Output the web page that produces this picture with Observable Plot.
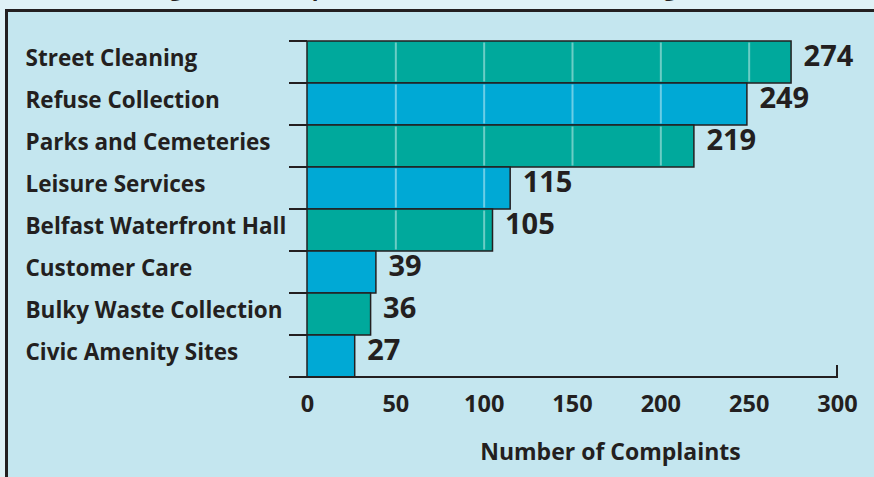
<!DOCTYPE html>
<html><head><meta charset="utf-8">
<script src="https://cdn.jsdelivr.net/npm/d3@7"></script>
<script src="https://cdn.jsdelivr.net/npm/@observablehq/plot@0.6"></script>
<style>
html,body{margin:0;padding:0;width:874px;height:477px;overflow:hidden;background:#dff1f6;font-family:"Open Sans",sans-serif;}
#title{position:absolute;left:151px;top:-24.5px;font-size:22px;line-height:22px;font-weight:bold;color:#231f20;white-space:nowrap;}
#panel{position:absolute;left:5px;top:9px;width:900px;height:500px;border:3px solid #231f20;background:#c4e6ef;}
#chart{position:absolute;left:0;top:0;}
</style></head><body>
<div id="title">Figure 15: Complaints to Council Services during 2010</div>
<div id="panel"></div>
<div id="chart"></div>
<script>
const categories = ["Street Cleaning","Refuse Collection","Parks and Cemeteries","Leisure Services","Belfast Waterfront Hall","Customer Care","Bulky Waste Collection","Civic Amenity Sites"];
const complaints = [274, 249, 219, 115, 105, 39, 36, 27];
const barFills = ["#00a99c","#00a9d5","#00a99c","#00a9d5","#00a99c","#00a9d5","#00a99c","#00a9d5"];
const xTicks = [0, 50, 100, 150, 200, 250, 300];
const axisTitle = "Number of Complaints";

const ink = "#231f20";
const rows = categories.map((c, i) => ({category: c, value: complaints[i], fill: barFills[i]}));
const grid = rows.flatMap(r => xTicks.filter(t => t > 0 && t < r.value).map(t => ({category: r.category, t})));

const chart = Plot.plot({
  width: 874, height: 477,
  marginLeft: 307, marginRight: 37, marginTop: 38, marginBottom: 97,
  style: {background: "transparent", fontFamily: "'Open Sans', sans-serif", color: ink, overflow: "visible"},
  x: {domain: [xTicks[0], xTicks[xTicks.length - 1]], ticks: xTicks},
  y: {domain: categories, padding: 0},
  color: {type: "identity"},
  marks: [
    Plot.barX(rows, {x: "value", y: "category", fill: "fill", stroke: ink, strokeWidth: 1.5}),
    Plot.tickX(grid, {x: "t", y: "category", stroke: "#ffffff", strokeOpacity: 0.42, strokeWidth: 2, insetTop: 1.5, insetBottom: 1.5}),
    Plot.text(rows, {x: "value", y: "category", text: d => String(d.value), textAnchor: "start", dx: 12, dy: -6, fontSize: 29, fontWeight: "bold", fill: ink}),
    Plot.axisY({tickSize: 0, tickPadding: 282, textAnchor: "start", fontSize: 22.5, fontWeight: "bold", label: null, dy: -4}),
    Plot.axisX({ticks: xTicks, tickSize: 0, tickPadding: 15, fontSize: 23.5, fontWeight: "bold", label: null}),
    Plot.text([axisTitle], {frameAnchor: "bottom", dx: 38, dy: 79, fontSize: 23, fontWeight: "bold", fill: ink}),
    (index, scales, values, dims) => {
      const y = scales.y, x = scales.x;
      const bw = y.bandwidth ? y.bandwidth() : (dims.height - dims.marginTop - dims.marginBottom) / categories.length;
      const x0 = x(xTicks[0]), x1 = x(xTicks[xTicks.length - 1]);
      const left = x0 - 18;
      const tops = categories.map(c => y(c));
      const bottom = tops[tops.length - 1] + bw;
      const g = d3.create("svg:g").attr("stroke", ink).attr("fill", "none");
      for (const e of tops) g.append("line").attr("x1", left).attr("x2", x0).attr("y1", e).attr("y2", e).attr("stroke-width", 2);
      g.append("line").attr("x1", left).attr("x2", x1).attr("y1", bottom).attr("y2", bottom).attr("stroke-width", 2);
      g.append("line").attr("x1", x1).attr("x2", x1).attr("y1", bottom - 12).attr("y2", bottom + 1).attr("stroke-width", 2);
      return g.node();
    }
  ]
});
document.getElementById("chart").append(chart);
</script>
</body></html>
